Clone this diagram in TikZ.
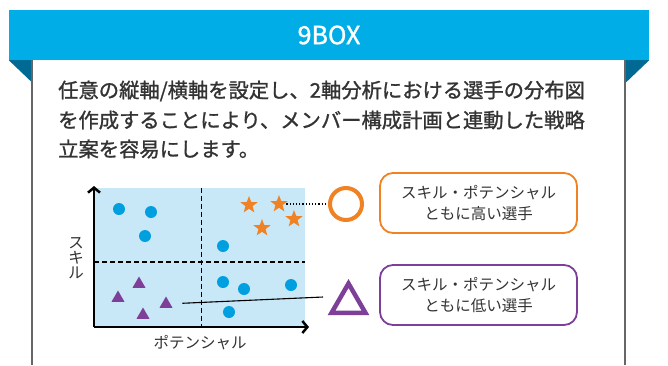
\documentclass[tikz,border=0pt]{standalone}
\usepackage{fontspec}
\setmainfont{Noto Sans CJK JP}
\newfontfamily\jpmedium[FakeBold=1.2]{Noto Sans CJK JP}
\usetikzlibrary{shapes.geometric,arrows.meta}
\definecolor{bannerblue}{HTML}{00ADE6}
\definecolor{foldteal}{HTML}{006A94}
\definecolor{plotbg}{HTML}{C8E8F8}
\definecolor{dotblue}{HTML}{00A0E0}
\definecolor{starorange}{HTML}{F08224}
\definecolor{tripurple}{HTML}{7E3F98}
\definecolor{textgrey}{HTML}{333333}
\definecolor{panelgrey}{HTML}{666666}
\begin{document}
\begin{tikzpicture}[
    x=1pt, y=-1pt,
    dot/.style={circle, fill=dotblue, inner sep=0pt, minimum size=12pt},
    starmark/.style={star, star points=5, star point ratio=2.4, fill=starorange, inner sep=0pt, minimum size=18pt},
    trimark/.style={regular polygon, regular polygon sides=3, fill=tripurple, inner sep=0pt, minimum size=15pt},
    axis/.style={line width=2.5pt, -{Straight Barb[length=5pt, width=12pt]}},
    grid/.style={dash pattern=on 5pt off 3pt, line width=1.1pt},
    note/.style={rectangle, rounded corners=13pt, line width=1.8pt, minimum width=197pt, minimum height=60pt, align=center, text=textgrey, font=\fontsize{15.5}{21}\selectfont},
    para/.style={anchor=west, inner sep=0pt, text=textgrey, font=\fontsize{20.3}{20}\selectfont\jpmedium}
]
\useasboundingbox[fill=white] (0,0) rectangle (668,365);

% Banner with folded ends
\node[fill=bannerblue, minimum width=640pt, minimum height=50pt, inner sep=0pt,
      text=white, font=\fontsize{25}{25}\selectfont\jpmedium] (banner) at (329,35) {9BOX};
\fill[foldteal] (banner.south west) -- ++(23,0) -- ++(0,22) -- cycle;
\fill[foldteal] (banner.south east) -- ++(-23,0) -- ++(0,22) -- cycle;
\draw[panelgrey, line width=1.5pt] (32,60) -- (32,365);
\draw[panelgrey, line width=1.5pt] (625,60) -- (625,365);

% Description
\node[para] (line1) at (58,91) {任意の縦軸/横軸を設定し、2軸分析における選手の分布図};
\node[para] (line2) at (58,120) {を作成することにより、メンバー構成計画と連動した戦略};
\node[para] (line3) at (58,149) {立案を容易にします。};

% Plot area
\node[fill=plotbg, minimum width=212pt, minimum height=139pt, inner sep=0pt, anchor=south west] (plot) at (93,327) {};
\draw[grid] (plot.north) ++(2,0) coordinate (vtop) -- (vtop |- plot.south);
\coordinate (hl) at (94,262);
\draw[grid] (hl) -- (hl -| plot.east);

% Axes
\coordinate (o) at (94,327);
\coordinate (ytop) at (94,186);
\coordinate (xend) at (309,327);
\draw[axis] (o) -- (ytop);
\draw[axis] (o) -- (xend);
\node[text=textgrey, font=\fontsize{15.5}{15}\selectfont, align=center] (ylab) at (76,258) {ス\\キ\\ル};
\node[text=textgrey, font=\fontsize{15.5}{15}\selectfont] (xlab) at (200,343) {ポテンシャル};

% Players
\foreach \px/\py [count=\k] in {119/209, 151/212, 145/236, 223/246, 223/282, 244/289, 291/285, 229/312} {
    \node[dot] (d\k) at (\px,\py) {};
}
\foreach \px/\py [count=\k] in {249/205, 279/204, 294/219, 262/228} {
    \node[starmark] (s\k) at (\px,\py) {};
}
\foreach \px/\py [count=\k] in {139/284, 118/298, 166/304, 143/315} {
    \node[trimark] (t\k) at (\px,\py) {};
}

% Markers and notes
\node[circle, draw=starorange, line width=4pt, minimum size=32pt, inner sep=0pt] (hi) at (346,204) {};
\node[regular polygon, regular polygon sides=3, draw=tripurple, line width=4.5pt, minimum size=39pt, inner sep=0pt] (lo) at (348.5,303) {};
\node[note, draw=starorange] (hibox) at (478.5,203) {スキル・ポテンシャル\\ともに高い選手};
\node[note, draw=tripurple] (lobox) at (478.5,295) {スキル・ポテンシャル\\ともに低い選手};

\draw[dotted, line width=1.2pt, shorten <=2pt, shorten >=3pt] (s2.east) -- (hi.west);
\coordinate (loend) at (323,297);
\draw[line width=1.1pt, shorten <=12pt] (t3) -- (loend);

\end{tikzpicture}
\end{document}
